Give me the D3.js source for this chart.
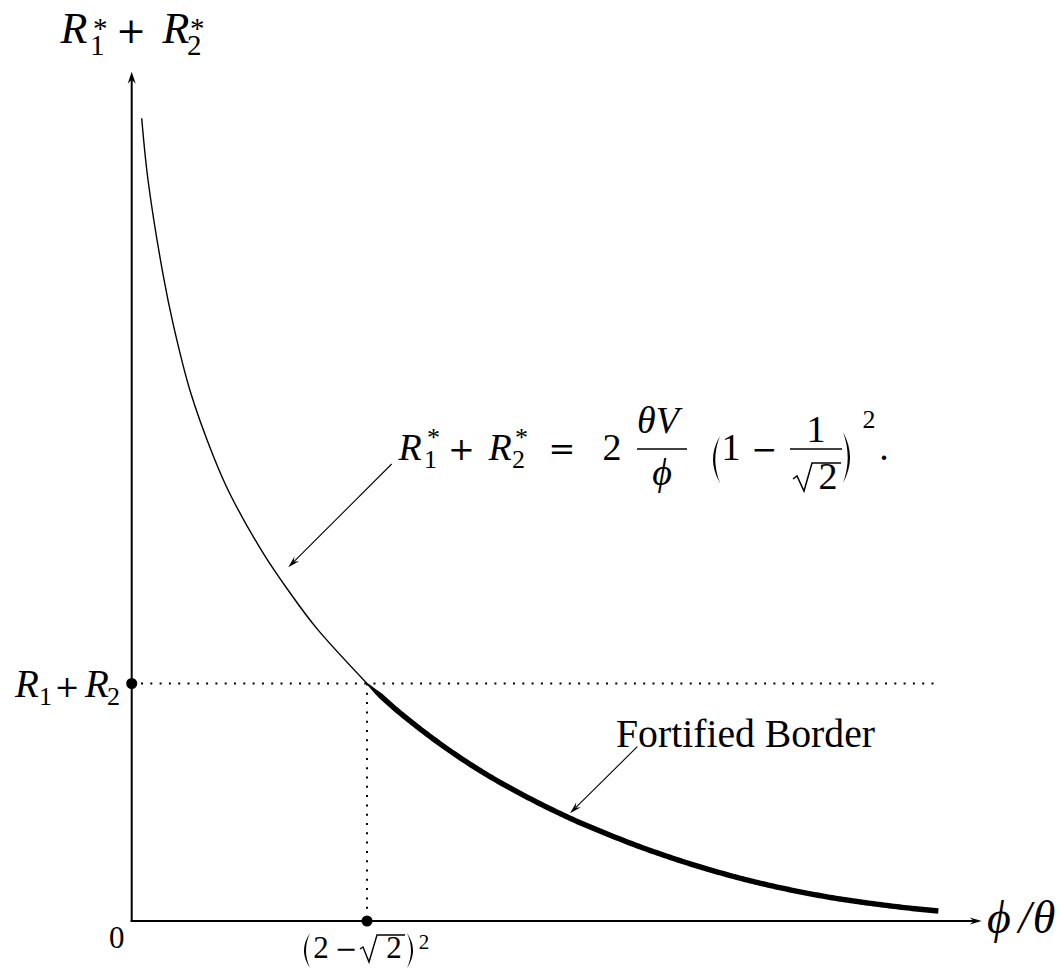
<!DOCTYPE html>
<html><head><meta charset="utf-8">
<script src="https://cdn.jsdelivr.net/npm/d3@7"></script>
<style>
body{margin:0;background:#fff}
text{font-family:"Liberation Serif","DejaVu Serif",serif;fill:#000}
text.op{font-family:"DejaVu Serif","Liberation Serif",serif;font-weight:normal}
</style>
</head><body>
<svg id="c" width="1062" height="975"></svg>
<script>
// ---- data (x in units of phi/theta, y in units of theta*V) ----
const curveX = [0.0146,0.0238,0.0461,0.0607,0.0850,0.1190,0.1433,0.1919,0.2308,0.2698,0.3431,
                0.3883,0.4444,0.5003,0.5560,0.6391,0.7235,0.7703,0.8345,0.9162,1.0168,1.1203,1.1762];
const curveY = [1.690,1.560,1.358,1.255,1.117,0.979,0.899,0.774,0.691,0.616,0.500,
                0.4417,0.3785,0.3236,0.2766,0.2164,0.1659,0.1413,0.1114,0.0796,0.0501,0.0293,0.0211];
const thresholdX = 0.3431;   // (2 - sqrt2)^2
const thresholdY = 0.5;      // R1 + R2
const xAxisMax = 1.2394, yAxisMax = 1.788;
const xTickValues = [0, thresholdX];
const xTickLabels = ["0", "(2−√2)²"];
const yTickValues = [thresholdY];
const yTickLabels = ["R1 + R2"];
const arrowTips  = [[0.2283,0.7446],[0.6391,0.2267]];
const arrowTails = [[0.3791,0.9621],[0.7372,0.3669]];

const svg = d3.select("#c");
const x = d3.scaleLinear().domain([0,xAxisMax]).range([131.7,981.7]);
const y = d3.scaleLinear().domain([0,yAxisMax]).range([921,71.7]);

function T(px,py,s,size,opt={}){
  const t = svg.append("text").attr("x",px).attr("y",py).attr("font-size",size).text(s);
  if(opt.it) t.attr("font-style","italic");
  if(opt.op) t.attr("class","op");
  if(opt.anchor) t.attr("text-anchor",opt.anchor);
  if(opt.len) t.attr("textLength",opt.len).attr("lengthAdjust","spacingAndGlyphs");
  return t;
}
function P(d,fill){
  return svg.append("path").attr("d",d).attr("fill",fill?"#000":"none").attr("stroke",fill?"none":"#000");
}
function head(x1,y1,x2,y2,len,hw){
  const a = Math.atan2(y2-y1,x2-x1), c=Math.cos(a), s=Math.sin(a);
  const bx=x2-len*c, by=y2-len*s;
  P(`M${x2},${y2}L${bx-hw*s},${by+hw*c}L${bx+0.35*len*c},${by+0.35*len*s}L${bx+hw*s},${by-hw*c}Z`,true);
}
function lparen(xr,y0,y1,bulge,th){
  const m=(y0+y1)/2;
  P(`M${xr},${y0}Q${xr-bulge*2},${m} ${xr},${y1}Q${xr-bulge*2+th*2},${m} ${xr},${y0}Z`,true);
}
function rparen(xl,y0,y1,bulge,th){
  const m=(y0+y1)/2;
  P(`M${xl},${y0}Q${xl+bulge*2},${m} ${xl},${y1}Q${xl+bulge*2-th*2},${m} ${xl},${y0}Z`,true);
}

// dotted guides
svg.append("line").attr("x1",x(0)).attr("x2",x(curveX[curveX.length-1])).attr("y1",y(thresholdY)).attr("y2",y(thresholdY))
  .attr("stroke","#000").attr("stroke-width",2).attr("stroke-dasharray","2 7.3");
svg.append("line").attr("x1",x(thresholdX)).attr("x2",x(thresholdX)).attr("y1",y(thresholdY)).attr("y2",y(0))
  .attr("stroke","#000").attr("stroke-width",2).attr("stroke-dasharray","2 7.3");

// axes
svg.append("line").attr("x1",x(0)).attr("x2",x(0)).attr("y1",y(0)+1).attr("y2",y(yAxisMax)+6).attr("stroke","#000").attr("stroke-width",2);
svg.append("line").attr("x1",x(0)-1).attr("x2",x(xAxisMax)-6).attr("y1",y(0)).attr("y2",y(0)).attr("stroke","#000").attr("stroke-width",2);
head(x(0),y(0),x(0),y(yAxisMax),12,4);
head(x(0),y(0),x(xAxisMax),y(0),12,3.6);

// curve
const pts = curveX.map((v,i)=>[v,curveY[i]]);
const iT = curveX.indexOf(thresholdX);
const line = d3.line().x(d=>x(d[0])).y(d=>y(d[1])).curve(d3.curveCatmullRom.alpha(0.5));
P(line(pts.slice(0,iT+1))).attr("stroke-width",1.4);
// thick "fortified" part: outline that widens from the crossing point
const thickPath = P(line(pts.slice(iT))).attr("stroke","none");
(function(){
  const node = thickPath.node(), L = node.getTotalLength(), n = 240;
  const left=[], right=[];
  for(let i=0;i<=n;i++){
    const s = L*i/n, p = node.getPointAtLength(s), q = node.getPointAtLength(Math.min(L,s+0.5)), r = node.getPointAtLength(Math.max(0,s-0.5));
    let dx=q.x-r.x, dy=q.y-r.y; const m=Math.hypot(dx,dy)||1; dx/=m; dy/=m;
    const w = Math.min(5.4, 1.4 + s*0.22)/2;
    left.push([p.x-dy*w,p.y+dx*w]); right.push([p.x+dy*w,p.y-dx*w]);
  }
  const poly = left.concat(right.reverse());
  P("M"+poly.map(d=>d[0].toFixed(2)+","+d[1].toFixed(2)).join("L")+"Z",true);
  thickPath.remove();
})();

// dots
svg.append("circle").attr("cx",x(0)).attr("cy",y(yTickValues[0])).attr("r",5.5);
svg.append("circle").attr("cx",x(xTickValues[1])).attr("cy",y(0)).attr("r",5.5);

// annotation arrows
arrowTips.forEach((tp,i)=>{
  const tl = arrowTails[i];
  const x1=x(tl[0]),y1=y(tl[1]),x2=x(tp[0]),y2=y(tp[1]);
  const a=Math.atan2(y2-y1,x2-x1);
  svg.append("line").attr("x1",x1).attr("y1",y1).attr("x2",x2-8*Math.cos(a)).attr("y2",y2-8*Math.sin(a)).attr("stroke","#000").attr("stroke-width",1.1);
  head(x1,y1,x2,y2,12,3.3);
});

// y-axis title  R1* + R2*
T(74,43,"R",44,{it:1,anchor:"middle"});
T(90,55,"1",29); T(93,38,"*",29);
T(131,43,"+",36,{op:1,anchor:"middle"});
T(176,43,"R",44,{it:1,anchor:"middle"});
T(187,55,"2",29); T(190,38,"*",29);

// x-axis title
T(999,933,"ϕ",46,{it:1,anchor:"middle"});
T(1025,933,"/",46,{it:1,anchor:"middle"});
T(1044,933,"θ",46,{it:1,anchor:"middle"});

// tick labels
T(x(xTickValues[0])-15,948,xTickLabels[0],31,{anchor:"middle"});
(function(){
  const cx=x(xTickValues[1]), b=958;
  lparen(cx-57,b-25,b+10,6,2);
  T(cx-46,b,"2",31,{anchor:"middle"});
  T(cx-21,b,"−",27,{op:1,anchor:"middle"});
  P(`M${cx-7},${b-9}L${cx-4},${b-11}L${cx+2},${b+4}L${cx+10},${b-23}L${cx+38},${b-23}`).attr("stroke-width",1.4);
  T(cx+27,b,"2",31,{anchor:"middle"});
  rparen(cx+40,b-25,b+10,6,2);
  T(cx+57,b-9,"2",21,{anchor:"middle"});
})();
(function(){
  const b=y(yTickValues[0])+13;
  T(27,b,"R",39,{it:1,anchor:"middle"});
  T(39,b+8,"1",26);
  T(67,b,"+",30,{op:1,anchor:"middle"});
  T(97,b,"R",39,{it:1,anchor:"middle"});
  T(107,b+8,"2",26);
})();

// equation
(function(){
  const b=460, fs=38;
  T(410,b,"R",fs,{it:1,anchor:"middle"});
  T(424,b+8,"1",26); T(427,b-14,"*",26);
  T(461.5,b,"+",32,{op:1,anchor:"middle"});
  T(500,b,"R",fs,{it:1,anchor:"middle"});
  T(512,b+8,"2",26); T(515,b-14,"*",26);
  T(562,b,"=",32,{op:1,anchor:"middle"});
  T(612,b,"2",fs,{anchor:"middle"});
  T(658,433,"θV",fs,{it:1,anchor:"middle"});
  svg.append("line").attr("x1",637).attr("x2",687).attr("y1",449).attr("y2",449).attr("stroke","#000").attr("stroke-width",1.6);
  T(662,485,"ϕ",fs,{it:1,anchor:"middle"});
  lparen(720,436,483,7,2.3);
  T(731,b,"1",fs,{anchor:"middle"});
  T(764.5,b,"−",31,{op:1,anchor:"middle"});
  T(816,442,"1",fs,{anchor:"middle"});
  svg.append("line").attr("x1",790).attr("x2",842).attr("y1",449).attr("y2",449).attr("stroke","#000").attr("stroke-width",1.6);
  P("M793,479L797,476L804,491L812,463L841,463").attr("stroke-width",1.5);
  T(828,489,"2",fs,{anchor:"middle"});
  rparen(843,432,483,7,2.3);
  T(869,428,"2",26,{anchor:"middle"});
  T(884,b,".",fs,{anchor:"middle"});
})();

// Fortified Border
T(616,747,"Fortified Border",41,{len:259});
</script>
</body></html>
